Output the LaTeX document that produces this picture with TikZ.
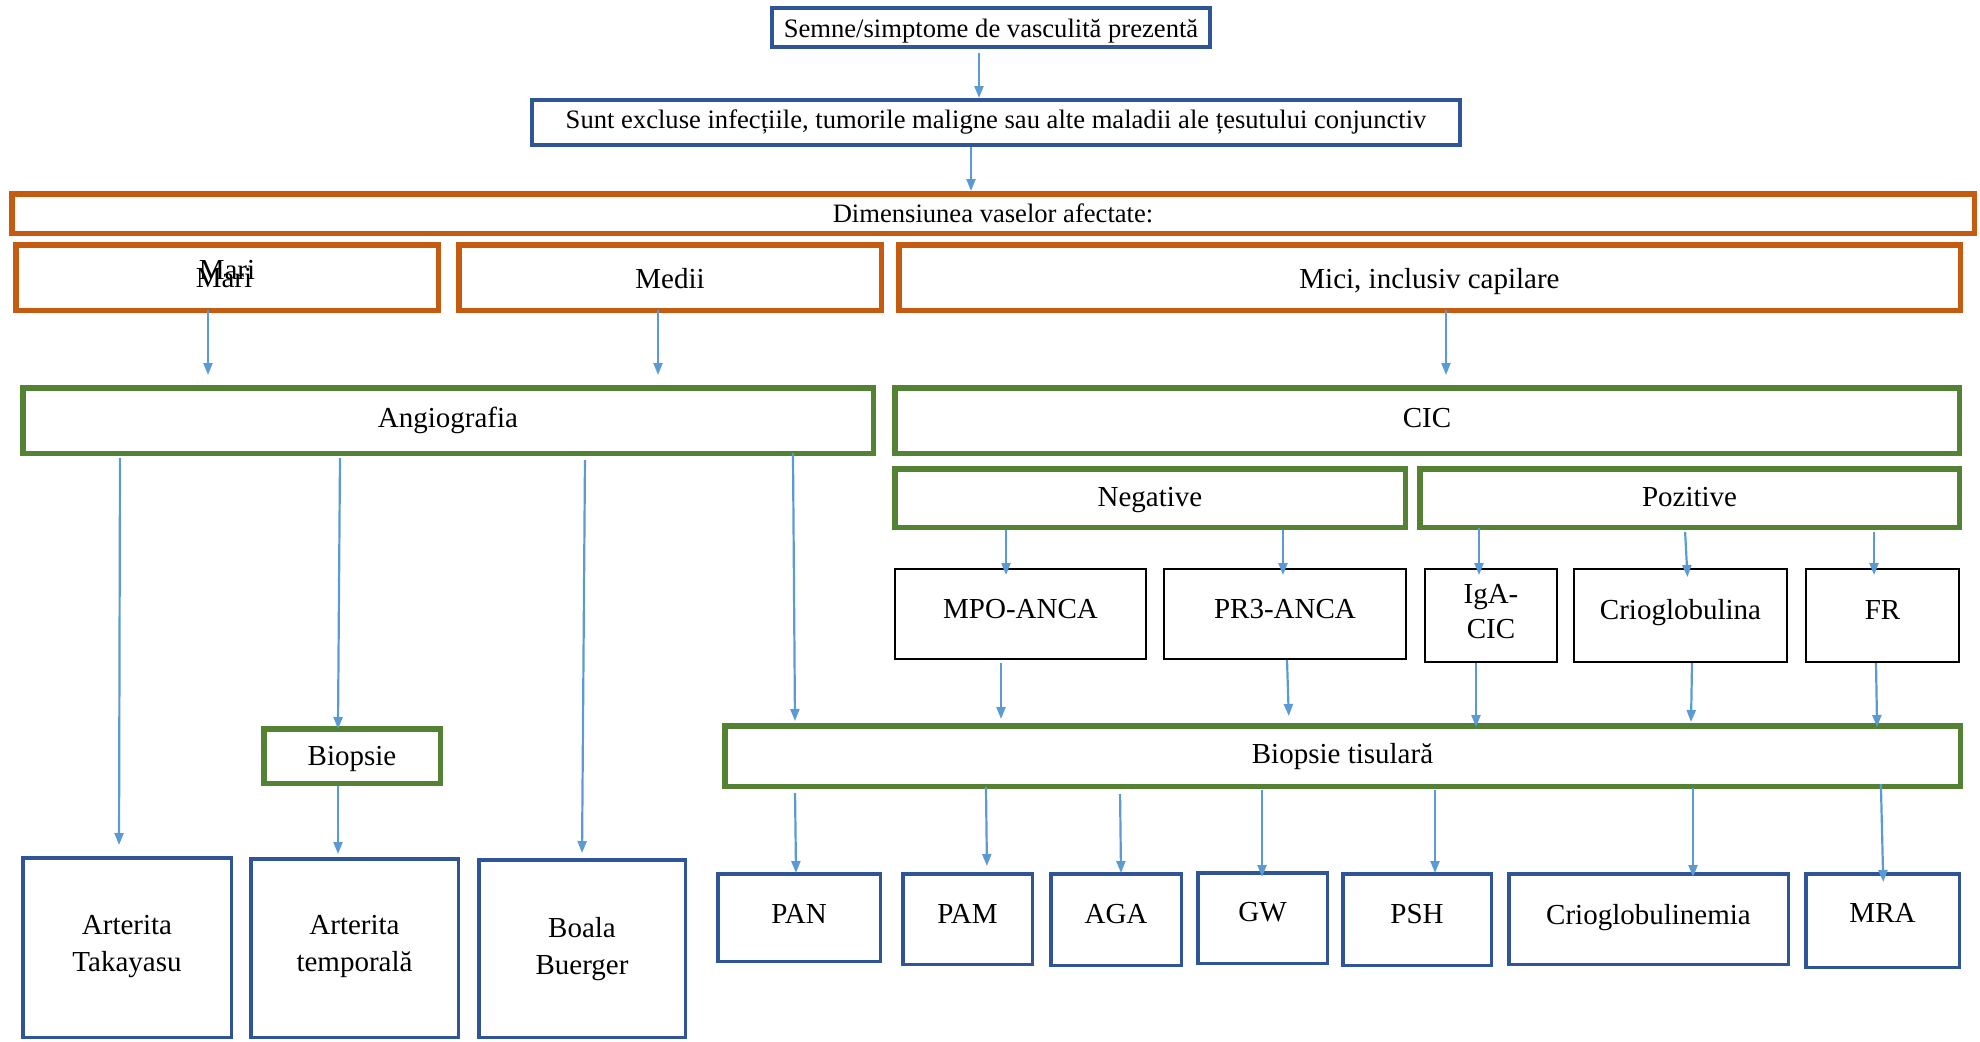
\documentclass[tikz,border=0pt]{standalone}
\usepackage{fontspec}
\setmainfont{Liberation Serif}
\usetikzlibrary{arrows.meta}
\definecolor{myblue}{HTML}{2F5597}
\definecolor{myorange}{HTML}{C55A11}
\definecolor{mygreen}{HTML}{548235}
\definecolor{arrblue}{HTML}{5B9BD5}
\newcommand{\bigf}{\fontsize{14.5pt}{17.5pt}\selectfont}
\newcommand{\smallf}{\fontsize{13.3pt}{16pt}\selectfont}
\tikzset{
  base/.style={inner sep=0pt, align=center, font=\bigf},
  bluebox/.style={base, draw=myblue, line width=2pt},
  lowbox/.style={base, draw=myblue, line width=1.75pt},
  orangebox/.style={base, draw=myorange, line width=2.75pt},
  greenbox/.style={base, draw=mygreen, line width=2.75pt},
  blackbox/.style={base, draw=black, line width=1pt},
  arr/.style={draw=arrblue, line width=1.1pt, -{Triangle[length=6pt,width=4.5pt]}},
}
% box whose outer edges are (x1,y1)-(x2,y2), in px units; optional text raise
\newcommand{\pxbox}[8][0pt]{%
  \pgfmathsetmacro\bxcx{(#4+#6)/2}%
  \pgfmathsetmacro\bxcy{(#5+#7)/2}%
  \pgfmathsetmacro\bxw{(#6-#4)*0.5}%
  \pgfmathsetmacro\bxh{(#7-#5)*0.5}%
  \node[#2, minimum width={\bxw pt-\pgflinewidth}, minimum height={\bxh pt-\pgflinewidth}] (#3) at (\bxcx,\bxcy)
    {\raisebox{#1}[\height][\depth]{\begin{tabular}{@{}c@{}}#8\end{tabular}}};}
\begin{document}
\begin{tikzpicture}[x=0.5pt,y=-0.5pt]
\useasboundingbox (0,0) rectangle (1980,1041);
% top
\pxbox[-2pt]{bluebox, font=\smallf}{top}{770}{6}{1212}{49}{Semne/simptome de vasculită prezentă}
\pxbox{bluebox, font=\smallf}{excl}{530}{98}{1462}{147}{Sunt excluse infecțiile, tumorile maligne sau alte maladii ale țesutului conjunctiv}
\pxbox[-1.3pt]{orangebox, font=\smallf}{dim}{9}{191}{1977}{236}{Dimensiunea vaselor afectate:}
\pxbox{orangebox}{mari}{13}{242}{441}{313}{}
\node[base, anchor=base] (mariA) at (227,279) {Mari};
\node[base, anchor=base] (mariB) at (224,287) {Mari};
\pxbox[-2pt]{orangebox}{medii}{456}{242}{884}{313}{Medii}
\pxbox[-2pt]{orangebox}{mici}{896}{242}{1963}{313}{Mici, inclusiv capilare}
% second level
\pxbox{greenbox}{angio}{20}{385}{876}{456}{Angiografia}
\pxbox{greenbox}{cic}{892}{385}{1962}{456}{CIC}
\pxbox[-0.7pt]{greenbox}{neg}{892}{466}{1408}{530}{Negative}
\pxbox[-0.7pt]{greenbox}{poz}{1417}{466}{1962}{530}{Pozitive}
% black boxes
\pxbox[1.3pt]{blackbox}{mpo}{894}{568}{1147}{660}{MPO-ANCA}
\pxbox[1.3pt]{blackbox}{pr3}{1163}{568}{1407}{660}{PR3-ANCA}
\pxbox[1pt]{blackbox}{iga}{1424}{568}{1558}{663}{IgA-\\CIC}
\pxbox[1.3pt]{blackbox}{crio}{1573}{568}{1788}{663}{Crioglobulina}
\pxbox[1.3pt]{blackbox}{fr}{1805}{568}{1960}{663}{FR}
% biopsies
\pxbox[-1.3pt]{greenbox}{biop}{261}{726}{443}{786}{Biopsie}
\pxbox{greenbox}{biopt}{722}{723}{1963}{789}{Biopsie tisulară}
% bottom
\pxbox[1pt]{lowbox, font={\fontsize{14.5pt}{18.5pt}\selectfont}}{tak}{21}{856}{233}{1039}{Arterita\\Takayasu}
\pxbox[1pt]{lowbox, font={\fontsize{14.5pt}{18.5pt}\selectfont}}{temp}{249}{857}{460}{1039}{Arterita\\temporală}
\pxbox{lowbox, font={\fontsize{14.5pt}{18.5pt}\selectfont}}{boala}{477}{858}{687}{1039}{Boala\\Buerger}
\pxbox[0.7pt]{lowbox}{pan}{716}{872}{882}{963}{PAN}
\pxbox[1.3pt]{lowbox}{pam}{901}{872}{1034}{966}{PAM}
\pxbox[1.3pt]{lowbox}{aga}{1049}{872}{1183}{967}{AGA}
\pxbox[2pt]{lowbox}{gw}{1196}{871}{1329}{965}{GW}
\pxbox[1.3pt]{lowbox}{psh}{1341}{872}{1493}{967}{PSH}
\pxbox[0.7pt]{lowbox}{criog}{1507}{872}{1790}{966}{Crioglobulinemia}
\pxbox[2.5pt]{lowbox}{mra}{1804}{872}{1961}{969}{MRA}
% arrows
\draw[arr, shorten <=2pt] (top.south -| 979,0) -- (excl.north -| 979,0);
\draw[arr] (excl.south -| 971,0) -- (dim.north -| 971,0);
\draw[arr, shorten <=-1.5pt, shorten >=5pt] (mari.south -| 208,0) -- (angio.north -| 208,0);
\draw[arr, shorten <=-1.5pt, shorten >=5pt] (medii.south -| 658,0) -- (angio.north -| 658,0);
\draw[arr, shorten <=-1.5pt, shorten >=5pt] (mici.south -| 1446,0) -- (cic.north -| 1446,0);
\draw[arr, shorten <=1pt, shorten >=5.5pt] (angio.south -| 120,0) -- (tak.north -| 119,0);
\draw[arr, shorten <=1pt, shorten >=-1.5pt] (angio.south -| 340,0) -- (biop.north -| 338,0);
\draw[arr, shorten <=2pt, shorten >=2.5pt] (angio.south -| 585,0) -- (boala.north -| 582,0);
\draw[arr, shorten <=-1.5pt, shorten >=1pt] (angio.south -| 793,0) -- (biopt.north -| 795,0);
\draw[arr, shorten >=1.5pt] (biop.south -| 338,0) -- (temp.north -| 338,0);
\draw[arr, shorten >=-3.5pt] (neg.south -| 1006,0) -- (mpo.north -| 1006,0);
\draw[arr, shorten >=-3.5pt] (neg.south -| 1283,0) -- (pr3.north -| 1283,0);
\draw[arr, shorten <=-1pt, shorten >=-3.5pt] (poz.south -| 1479,0) -- (iga.north -| 1479,0);
\draw[arr, shorten <=1pt, shorten >=-4.5pt] (poz.south -| 1685,0) -- (crio.north -| 1687,0);
\draw[arr, shorten <=1pt, shorten >=-3.5pt] (poz.south -| 1874,0) -- (fr.north -| 1874,0);
\draw[arr, shorten <=1.5pt, shorten >=2pt] (mpo.south -| 1001,0) -- (biopt.north -| 1001,0);
\draw[arr, shorten >=3.5pt] (pr3.south -| 1287,0) -- (biopt.north -| 1289,0);
\draw[arr, shorten <=0pt, shorten >=-2pt] (iga.south -| 1476,0) -- (biopt.north -| 1476,0);
\draw[arr, shorten >=0.5pt] (crio.south -| 1692,0) -- (biopt.north -| 1691,0);
\draw[arr, shorten >=-2pt] (fr.south -| 1876,0) -- (biopt.north -| 1877,0);
\draw[arr, shorten <=2pt, shorten >=-0.5pt] (biopt.south -| 795,0) -- (pan.north -| 796,0);
\draw[arr, shorten <=-1pt, shorten >=3pt] (biopt.south -| 986,0) -- (pam.north -| 987,0);
\draw[arr, shorten <=2.5pt, shorten >=-0.5pt] (biopt.south -| 1120,0) -- (aga.north -| 1121,0);
\draw[arr, shorten <=0.5pt, shorten >=-3pt] (biopt.south -| 1262,0) -- (gw.north -| 1262,0);
\draw[arr, shorten <=0.5pt, shorten >=-0.5pt] (biopt.south -| 1435,0) -- (psh.north -| 1435,0);
\draw[arr, shorten <=-0.5pt, shorten >=-2.5pt] (biopt.south -| 1693,0) -- (criog.north -| 1693,0);
\draw[arr, shorten <=-2.5pt, shorten >=-5pt] (biopt.south -| 1881,0) -- (mra.north -| 1883,0);
\end{tikzpicture}
\end{document}
